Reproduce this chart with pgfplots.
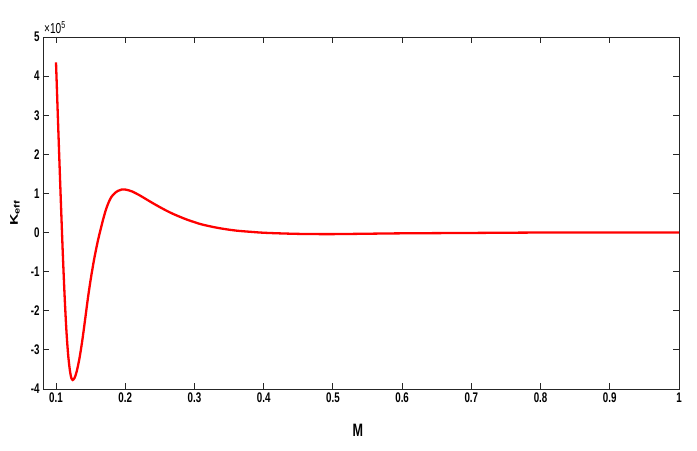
\documentclass[border=0pt]{standalone}
\usepackage{fontspec}
\setmainfont{Liberation Sans}[FakeStretch=0.7]
\newfontfamily\plainsans{Liberation Sans}
\usepackage{graphicx}
\usepackage{pgfplots}
\pgfplotsset{compat=1.18}
\definecolor{axgray}{RGB}{38,38,38}
\pgfplotstableread{
x y
0.1000 4.35
0.1025 3.05
0.1050 1.78
0.1075 0.55
0.1100 -0.62
0.1125 -1.65
0.1150 -2.50
0.1175 -3.12
0.1200 -3.52
0.1220 -3.71
0.1241 -3.77
0.1270 -3.71
0.1300 -3.545
0.1340 -3.205
0.1380 -2.755
0.1420 -2.23
0.1460 -1.69
0.1500 -1.21
0.1550 -0.69
0.1600 -0.25
0.1640 0.05
0.1680 0.33
0.1720 0.58
0.1760 0.77
0.1800 0.91
0.1850 1.01
0.1900 1.07
0.1950 1.10
0.2000 1.10
0.2050 1.08
0.2100 1.05
0.2200 0.96
0.2300 0.855
0.2400 0.75
0.2500 0.65
0.2600 0.555
0.2700 0.47
0.2800 0.395
0.2900 0.325
0.3000 0.265
0.3100 0.21
0.3250 0.15
0.3400 0.10
0.3600 0.05
0.3800 0.02
0.4000 -0.005
0.4300 -0.025
0.4600 -0.037
0.5000 -0.04
0.5500 -0.03
0.6000 -0.02
0.7000 -0.01
0.8000 0.00
0.9000 0.00
1.0000 0.00
}\keffdata
\begin{document}
\begin{tikzpicture}
\begin{axis}[
  scale only axis, width=636bp, height=352bp,
  xmin=0.0812, xmax=1, ymin=-4, ymax=5,
  xtick={0.1,0.2,0.3,0.4,0.5,0.6,0.7,0.8,0.9,1},
  xticklabels={0.1,0.2,0.3,0.4,0.5,0.6,0.7,0.8,0.9,1},
  ytick={-4,-3,-2,-1,0,1,2,3,4,5},
  yticklabels={-4,-3,-2,-1,0,1,2,3,4,5},
  tick align=inside, major tick length=6bp,
  axis line style={axgray, line width=0.8bp},
  every tick/.style={axgray, line width=0.8bp},
  tick label style={font=\fontsize{14}{16}\selectfont\bfseries, text=black},
  /pgf/number format/assume math mode=true,
  xlabel={\fontsize{18}{20}\selectfont\bfseries M},
  xlabel style={at={(axis description cs:0.495,-0.1165)}, anchor=center},
  ylabel={\plainsans\bfseries\fontsize{16}{18}\selectfont\scalebox{1}[0.7]{K\textsubscript{eff}}},
  ylabel style={at={(axis description cs:-0.044,0.5)}, anchor=center},
  clip=false,
]
\addplot[red, line width=2.3bp, smooth, tension=0.5] table[x=x, y=y] {\keffdata};
\node[anchor=south west, inner sep=0pt, font=\fontsize{14.5}{16}\selectfont]
  at (axis description cs:0,1) [yshift=3bp, xshift=1bp] {×10\textsuperscript{5}};
\end{axis}
\pgfresetboundingbox
\path ([xshift=-43bp,yshift=-62bp]current axis.south west) rectangle ([xshift=18bp,yshift=37bp]current axis.north east);
\end{tikzpicture}
\end{document}
